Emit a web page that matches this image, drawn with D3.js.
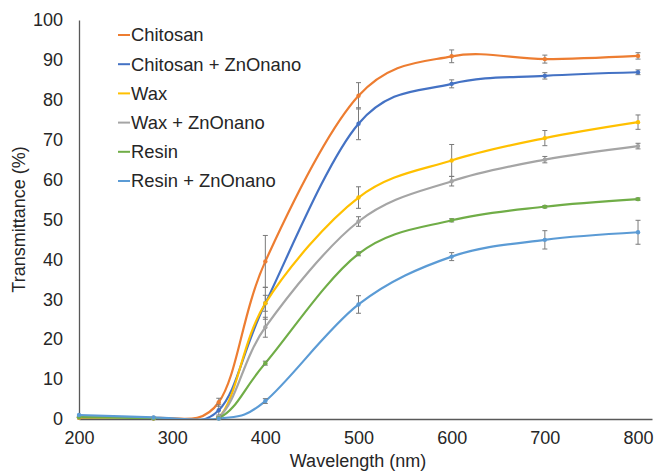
<!DOCTYPE html>
<html>
<head>
<meta charset="utf-8">
<script src="https://cdn.jsdelivr.net/npm/d3@7"></script>
<style>
  body { margin: 0; background: #fff; }
  text { font-family: "Liberation Sans", Arial, sans-serif; }
</style>
</head>
<body>
<div id="chart"></div>
<script>
// chart data
let wavelengths = [200, 280, 350, 400, 500, 600, 700, 800];
let seriesNames = ["Chitosan", "Chitosan + ZnOnano", "Wax", "Wax + ZnOnano", "Resin", "Resin + ZnOnano"];
let chitosan     = [0.3, 0.2, 4.2, 39.5, 81.0, 90.9, 90.2, 91.0];
let chitosanZn   = [0.4, 0.2, 2.2, 29.0, 74.0, 84.0, 86.0, 86.9];
let wax          = [0.4, 0.2, 0.3, 29.0, 55.5, 64.8, 70.4, 74.4];
let waxZn        = [0.6, 0.3, 0.5, 23.0, 49.5, 59.6, 65.0, 68.4];
let resin        = [0.5, 0.2, 0.2, 14.0, 41.4, 49.8, 53.2, 55.1];
let resinZn      = [1.0, 0.4, 0.1, 4.5, 28.7, 40.7, 44.9, 46.8];
let chitosanErr  = [0, 0, 1.0, 6.5, 3.3, 1.6, 1.0, 0.8];
let chitosanZnErr= [0, 0, 1.5, 4.0, 4.0, 1.0, 0.8, 0.6];
let waxErr       = [0, 0, 0.3, 2.0, 2.7, 4.0, 1.9, 1.8];
let waxZnErr     = [0, 0, 0.5, 2.5, 1.2, 1.2, 0.8, 0.7];
let resinErr     = [0, 0, 0.2, 0.5, 0.5, 0.4, 0.3, 0.3];
let resinZnErr   = [0, 0, 0.2, 0.6, 2.2, 1.0, 2.3, 3.0];
let xTicks = [200, 300, 400, 500, 600, 700, 800];
let yTicks = [0, 10, 20, 30, 40, 50, 60, 70, 80, 90, 100];

let colors = ["#ED7D31", "#4472C4", "#FFC000", "#A5A5A5", "#70AD47", "#5B9BD5"];
let allValues = [chitosan, chitosanZn, wax, waxZn, resin, resinZn];
let allErrors = [chitosanErr, chitosanZnErr, waxErr, waxZnErr, resinErr, resinZnErr];

let svgWidth = 654;
let svgHeight = 472;
let margins = { top: 20, right: 2, bottom: 53, left: 79 };
let width = svgWidth - margins.left - margins.right;
let height = svgHeight - margins.top - margins.bottom;

let svg = d3.select("#chart")
    .append("svg")
    .attr("width", svgWidth)
    .attr("height", svgHeight);

let chartGroup = svg.append("g")
    .attr("transform", `translate(${margins.left}, ${margins.top})`);

let xScale = d3.scaleLinear().domain([200, 815]).range([0, width]);
let yScale = d3.scaleLinear().domain([0, 100]).range([height, 0]);

// clip so the smoothed curves don't poke below zero
svg.append("defs").append("clipPath").attr("id", "plotClip")
    .append("rect").attr("x", 0).attr("y", 0).attr("width", width).attr("height", height);

// axes
let bottomAxis = d3.axisBottom(xScale).tickValues(xTicks).tickSize(0).tickPadding(12);
let leftAxis = d3.axisLeft(yScale).tickValues(yTicks).tickSize(0).tickPadding(16);

let xAxisG = chartGroup.append("g")
    .attr("transform", `translate(0, ${height})`)
    .call(bottomAxis);
let yAxisG = chartGroup.append("g").call(leftAxis);

[xAxisG, yAxisG].forEach(function(g) {
    g.select(".domain").attr("stroke", "#595959").attr("stroke-width", 1.3);
    g.selectAll("text").attr("font-size", 18).attr("fill", "#262626")
        .style("font-family", "'Liberation Sans', Arial, sans-serif");
});
xAxisG.selectAll("text").attr("dy", "0.71em");

// lines
let line = d3.line()
    .x(d => xScale(d[0]))
    .y(d => yScale(d[1]))
    .curve(d3.curveCardinal.tension(0));

let plot = chartGroup.append("g").attr("clip-path", "url(#plotClip)");

allValues.forEach(function(vals, i) {
    let pts = wavelengths.map((w, j) => [w, vals[j]]);
    plot.append("path")
        .datum(pts)
        .attr("fill", "none")
        .attr("stroke", colors[i])
        .attr("stroke-width", 2.2)
        .attr("d", line);
});

// error bars
allValues.forEach(function(vals, i) {
    let errs = allErrors[i];
    let eg = chartGroup.append("g");
    wavelengths.forEach(function(w, j) {
        if (!errs[j]) return;
        let x = xScale(w);
        let y1 = yScale(Math.min(100, vals[j] + errs[j]));
        let y2 = yScale(Math.max(0, vals[j] - errs[j]));
        eg.append("line").attr("x1", x).attr("x2", x).attr("y1", y1).attr("y2", y2)
            .attr("stroke", "#7a7a7a").attr("stroke-width", 1);
        [y1, y2].forEach(function(yy) {
            eg.append("line").attr("x1", x - 2.5).attr("x2", x + 2.5).attr("y1", yy).attr("y2", yy)
                .attr("stroke", "#7a7a7a").attr("stroke-width", 1);
        });
    });
});

// markers
allValues.forEach(function(vals, i) {
    chartGroup.append("g").selectAll("circle")
        .data(wavelengths.map((w, j) => [w, vals[j]]))
        .enter()
        .append("circle")
        .attr("cx", d => xScale(d[0]))
        .attr("cy", d => yScale(d[1]))
        .attr("r", 2.2)
        .attr("fill", colors[i]);
});

// legend
let legend = svg.append("g").attr("transform", "translate(118, 35)");
seriesNames.forEach(function(name, i) {
    let row = legend.append("g").attr("transform", `translate(0, ${i * 29.2})`);
    row.append("line").attr("x1", 0).attr("x2", 12).attr("y1", 0).attr("y2", 0)
        .attr("stroke", colors[i]).attr("stroke-width", 2);
    row.append("text").attr("x", 13).attr("y", 0).attr("dy", "0.35em")
        .attr("font-size", 18.4).attr("fill", "#262626").text(name);
});

// axis titles
svg.append("text")
    .attr("transform", `translate(25, ${margins.top + height / 2}) rotate(-90)`)
    .attr("text-anchor", "middle")
    .attr("font-size", 18)
    .attr("fill", "#262626")
    .text("Transmittance (%)");

svg.append("text")
    .attr("x", 358)
    .attr("y", 467)
    .attr("text-anchor", "middle")
    .attr("font-size", 18)
    .attr("fill", "#262626")
    .text("Wavelength (nm)");
</script>
</body>
</html>
